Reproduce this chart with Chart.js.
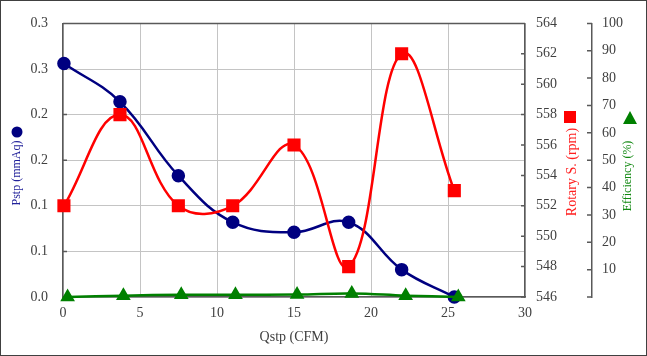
<!DOCTYPE html>
<html><head><meta charset="utf-8">
<script src="https://cdn.jsdelivr.net/npm/chart.js@4.4.1/dist/chart.umd.min.js"></script>
<style>html,body{margin:0;padding:0;background:#fff;} canvas{display:block;}</style>
</head><body>
<canvas id="c" width="647" height="356"></canvas>
<script>
// ---- data ----
const qstp = [0.06, 3.70, 7.49, 11.02, 15.0, 18.55, 21.99, 25.41];
const pstp = [0.256, 0.214, 0.133, 0.082, 0.071, 0.082, 0.030, 0.000];
const rotary = [552, 558, 552, 552, 556, 548, 562, 553];
const qstpEff = [0.3, 3.92, 7.68, 11.2, 15.2, 18.75, 22.25, 25.67];
const efficiency = [0.0, 0.5, 0.8, 0.8, 0.9, 1.3, 0.5, 0.0];
const pstpTickLabels = ['0.0', '0.1', '0.1', '0.2', '0.2', '0.3', '0.3'];
const effTickLabels = ['', '10', '20', '30', '40', '50', '60', '70', '80', '90', '100'];
const xTitle = 'Qstp (CFM)';
const pstpTitle = 'Pstp (mmAq)';
const rotaryTitle = 'Rotary S. (rpm)';
const effTitle = 'Efficiency (%)';

const FONT = '"Liberation Serif", "Times New Roman", serif';
const AXIS = '#595959';
const GRID = '#c4c4c4';
const TICKC = '#404040';

const pts = (xs, ys) => xs.map((x, i) => ({x: x, y: ys[i]}));

const decor = {
  id: 'decor',
  beforeDatasetsDraw(chart) {
    const {ctx, chartArea: a, scales} = chart;
    ctx.save();
    ctx.strokeStyle = AXIS;
    ctx.lineWidth = 1.5;
    ctx.beginPath();
    ctx.moveTo(a.left, a.top); ctx.lineTo(a.right, a.top);
    // inward tick marks
    scales.y.ticks.forEach((t, i) => { const p = scales.y.getPixelForTick(i); ctx.moveTo(a.left, p); ctx.lineTo(a.left + 4, p); });
    scales.y1.ticks.forEach((t, i) => { const p = scales.y1.getPixelForTick(i); ctx.moveTo(a.right, p); ctx.lineTo(a.right - 4, p); });
    const x2 = scales.y2.left;
    scales.y2.ticks.forEach((t, i) => { const p = scales.y2.getPixelForTick(i); ctx.moveTo(x2, p); ctx.lineTo(x2 - 5, p); });
    ctx.stroke();
    ctx.restore();
  },
  afterDraw(chart) {
    const {ctx, width, height} = chart;
    ctx.save();
    // outer frame
    ctx.strokeStyle = '#404040';
    ctx.lineWidth = 1;
    ctx.strokeRect(0.5, 0.5, width - 1, height - 1);
    // rotated axis titles with their legend markers
    const vtext = (txt, x, y, color, size) => {
      ctx.save();
      ctx.translate(x, y);
      ctx.rotate(-Math.PI / 2);
      ctx.font = size + 'px ' + FONT;
      ctx.fillStyle = color;
      ctx.textAlign = 'center';
      ctx.textBaseline = 'middle';
      ctx.fillText(txt, 0, 0);
      ctx.restore();
    };
    vtext(pstpTitle, 17, 173, '#22229a', 12);
    ctx.fillStyle = '#000080';
    ctx.beginPath(); ctx.arc(17, 132, 5.5, 0, Math.PI * 2); ctx.fill();
    vtext(rotaryTitle, 572, 172, '#ff2020', 14);
    ctx.fillStyle = '#ff0000';
    ctx.fillRect(564, 111, 12, 12);
    vtext(effTitle, 628, 176, '#118811', 12);
    ctx.fillStyle = '#008000';
    ctx.beginPath(); ctx.moveTo(630, 111); ctx.lineTo(637, 124); ctx.lineTo(623, 124); ctx.closePath(); ctx.fill();
    ctx.restore();
  }
};

new Chart(document.getElementById('c'), {
  type: 'line',
  data: {
    datasets: [
      { label: pstpTitle, data: pts(qstp, pstp), yAxisID: 'y', borderColor: '#000080', backgroundColor: '#000080',
        borderWidth: 2.5, pointStyle: 'circle', pointRadius: 5.5, pointHoverRadius: 5.5, tension: 0.4, clip: false, order: 2 },
      { label: rotaryTitle, data: pts(qstp, rotary), yAxisID: 'y1', borderColor: '#ff0000', backgroundColor: '#ff0000',
        borderWidth: 2.5, pointStyle: 'rect', pointRadius: 7.5, pointHoverRadius: 7.5, tension: 0.4, clip: false, order: 1 },
      { label: effTitle, data: pts(qstpEff, efficiency), yAxisID: 'y2', borderColor: '#008000', backgroundColor: '#008000',
        borderWidth: 2.5, pointStyle: 'triangle', pointRadius: 6, pointHoverRadius: 6, tension: 0.4, clip: false, order: 0 }
    ]
  },
  options: {
    responsive: false,
    devicePixelRatio: 1,
    animation: false,
    layout: { padding: { top: 19, left: 0, right: 0, bottom: 0 } },
    plugins: { legend: { display: false }, tooltip: { enabled: false } },
    scales: {
      x: {
        type: 'linear', min: 0, max: 30,
        ticks: { stepSize: 5, color: TICKC, font: { family: FONT, size: 14 }, padding: 8, maxRotation: 0 },
        grid: { color: GRID, lineWidth: 1, drawTicks: false },
        border: { display: true, color: AXIS, width: 1.5 },
        title: { display: true, text: xTitle, color: TICKC, font: { family: FONT, size: 14 }, padding: { top: 0, bottom: 10 } },
        afterFit(s) { s.height = 59; }
      },
      y: {
        position: 'left', min: 0, max: 0.3,
        ticks: { stepSize: 0.05, color: TICKC, font: { family: FONT, size: 14 }, padding: 15,
                 callback: (v, i) => pstpTickLabels[i] },
        grid: { color: GRID, lineWidth: 1, drawTicks: false },
        border: { display: true, color: AXIS, width: 1.5 },
        afterFit(s) { s.width = 63; }
      },
      y1: {
        position: 'right', min: 546, max: 564, weight: 0,
        ticks: { stepSize: 2, color: TICKC, font: { family: FONT, size: 14 }, padding: 11 },
        grid: { drawOnChartArea: false, drawTicks: false },
        border: { display: true, color: AXIS, width: 1.5 },
        afterFit(s) { s.width = 67; }
      },
      y2: {
        position: 'right', min: 0, max: 100, weight: 1,
        ticks: { stepSize: 10, color: TICKC, font: { family: FONT, size: 14 }, padding: 10,
                 callback: (v, i) => effTickLabels[i] },
        grid: { drawOnChartArea: false, drawTicks: false },
        border: { display: true, color: AXIS, width: 1.5 },
        afterFit(s) { s.width = 55; }
      }
    }
  },
  plugins: [decor]
});
</script>
</body></html>
